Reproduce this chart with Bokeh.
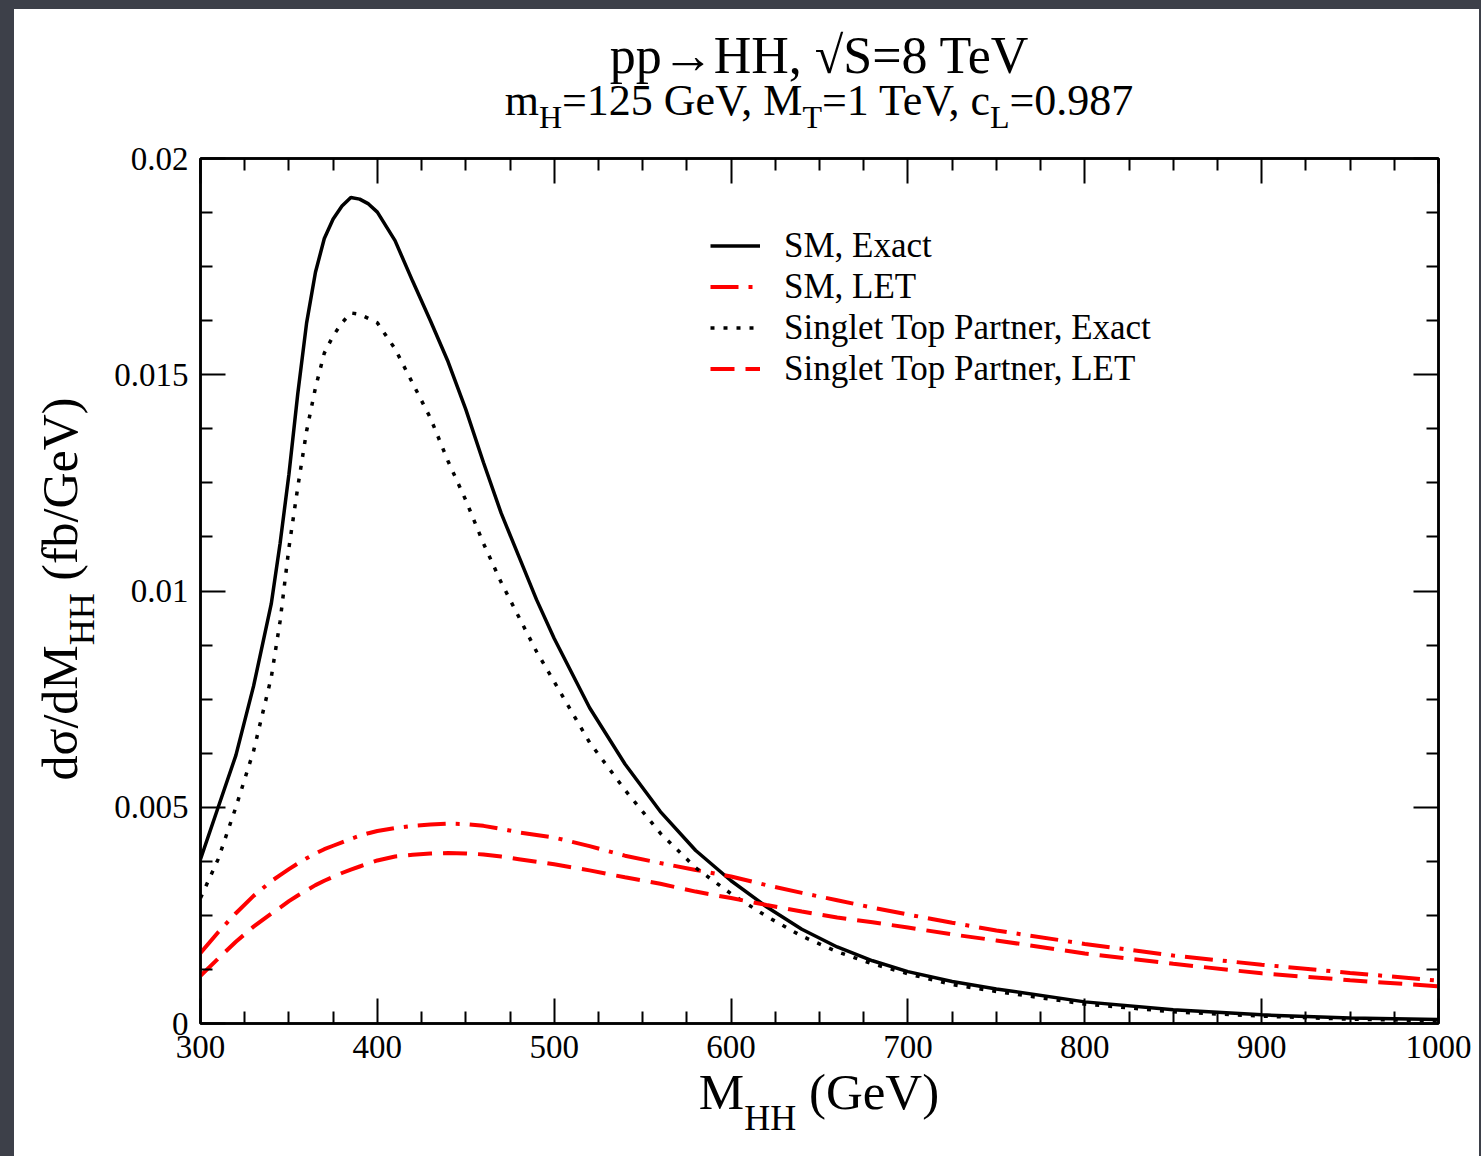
from bokeh.plotting import figure
from bokeh.models import LinearAxis, FixedTicker, Range1d, Div
from bokeh.layouts import column, row
from bokeh.embed import file_html
from bokeh.resources import INLINE

# ---------------- data ----------------
m_hh = [300, 310, 320, 330, 340, 345, 350, 355, 360, 365, 370, 375, 380, 385, 390, 395,
        400, 410, 420, 430, 440, 450, 460, 470, 480, 490, 500, 520, 540, 560, 580, 600,
        620, 640, 660, 680, 700, 725, 750, 800, 850, 900, 950, 1000]

sm_exact = [0.0038, 0.0050, 0.0062, 0.0078, 0.0097, 0.0111, 0.0127, 0.01456, 0.0162, 0.01737,
            0.01815, 0.0186, 0.0189, 0.0191, 0.01906, 0.01895, 0.01876, 0.0181, 0.01716, 0.01625,
            0.0153, 0.0142, 0.01297, 0.0118, 0.0108, 0.0098, 0.0089, 0.0073, 0.0060, 0.0049,
            0.0040, 0.0033, 0.0027, 0.00218, 0.00177, 0.00145, 0.0012, 0.00097, 0.0008, 0.0005,
            0.00032, 0.0002, 0.00013, 0.00009]

sm_let = [0.00163, 0.00211, 0.00255, 0.00295, 0.00329, 0.00343, 0.00357, 0.0037, 0.00382,
          0.00393, 0.00403, 0.00411, 0.00419, 0.00427, 0.00434, 0.0044, 0.00445, 0.00452,
          0.00457, 0.0046, 0.00462, 0.00461, 0.00457, 0.0045, 0.00442, 0.00436, 0.0043,
          0.0041, 0.00388, 0.00371, 0.00355, 0.0034, 0.0032, 0.00302, 0.00285, 0.00268,
          0.00252, 0.00233, 0.00215, 0.00184, 0.00157, 0.00136, 0.00117, 0.00099]

st_exact = [0.0029, 0.0038, 0.0050, 0.0063, 0.0080, 0.0093, 0.0110, 0.0124, 0.0137, 0.0147,
            0.0155, 0.0159, 0.0162, 0.01643, 0.0164, 0.0163, 0.0162, 0.0156, 0.0148, 0.0140,
            0.0130, 0.0121, 0.0111, 0.0102, 0.0094, 0.0086, 0.0079, 0.0065, 0.0054, 0.0044,
            0.0036, 0.0030, 0.00248, 0.00202, 0.00166, 0.00138, 0.00115, 0.0009, 0.00074, 0.00045,
            0.00027, 0.00017, 0.0001, 0.00006]

st_let = [0.0011, 0.0015, 0.00189, 0.00224, 0.00254, 0.00268, 0.00283, 0.00296, 0.00308, 0.0032,
          0.0033, 0.00339, 0.00348, 0.00356, 0.00363, 0.0037, 0.00377, 0.00386, 0.0039,
          0.00393, 0.00394, 0.00393, 0.00391, 0.00386, 0.0038, 0.00374, 0.00368, 0.00354,
          0.00338, 0.00323, 0.00305, 0.0029, 0.00274, 0.00259, 0.00245, 0.00234, 0.00222,
          0.00206, 0.00192, 0.00162, 0.00138, 0.00116, 0.001, 0.00086]

series_labels = ["SM, Exact", "SM, LET", "Singlet Top Partner, Exact", "Singlet Top Partner, LET"]

x_ticks = [300, 400, 500, 600, 700, 800, 900, 1000]
y_ticks = [0, 0.005, 0.01, 0.015, 0.02]
y_tick_labels = ["0", "0.005", "0.01", "0.015", "0.02"]

FONT = "Liberation Serif"
DARK = "#3d4049"

# ---------------- page geometry ----------------
PAD_T, PAD_L, PAD_R = 9, 14, 2
MAIN_W = 1481 - PAD_L - PAD_R           # 1465
TITLE_H = 131
YLAB_W = 96
FW, FH = 1238, 865
BL, BT, BB = 90, 18, 54
BR = MAIN_W - YLAB_W - BL - FW          # 41
P_H = BT + FH + BB
XLAB_H = 1156 - PAD_T - TITLE_H - P_H
MAIN_H = TITLE_H + P_H + XLAB_H

p = figure(frame_width=FW, frame_height=FH,
           min_border_left=BL, min_border_right=BR, min_border_top=BT, min_border_bottom=BB,
           x_range=Range1d(300, 1000), y_range=Range1d(0, 0.02),
           output_backend="svg", toolbar_location=None, margin=(0, 0, 0, 0))
p.background_fill_color = "white"
p.border_fill_color = "white"
p.grid.visible = False
p.outline_line_color = "black"
p.outline_line_width = 2.5

x_minor = [t + d for t in x_ticks[:-1] for d in (25, 50, 75)]
y_minor = [t + d for t in y_ticks[:-1] for d in (0.00125, 0.0025, 0.00375)]


def style_axis(ax, ticks, minor, show_labels):
    ax.ticker = FixedTicker(ticks=ticks, minor_ticks=minor)
    ax.major_tick_in = 25
    ax.major_tick_out = 0
    ax.minor_tick_in = 12
    ax.minor_tick_out = 0
    ax.major_tick_line_width = 2
    ax.minor_tick_line_width = 2
    ax.major_tick_line_color = "black"
    ax.minor_tick_line_color = "black"
    ax.axis_line_width = 2.5
    ax.axis_line_color = "black"
    ax.major_label_text_font = FONT
    ax.axis_label = None
    if show_labels:
        ax.major_label_text_font_size = "33px"
        ax.major_label_text_color = "black"
    else:
        ax.major_label_text_font_size = "0px"
        ax.major_label_text_color = None
        ax.major_label_standoff = 0


xb = p.xaxis[0]
yl = p.yaxis[0]
style_axis(xb, x_ticks, x_minor, True)
style_axis(yl, y_ticks, y_minor, True)
xb.major_label_standoff = 12
yl.major_label_standoff = 12
yl.major_label_overrides = {t: s for t, s in zip(y_ticks, y_tick_labels)}

xa = LinearAxis()
style_axis(xa, x_ticks, x_minor, False)
p.add_layout(xa, "above")
yr = LinearAxis()
style_axis(yr, y_ticks, y_minor, False)
p.add_layout(yr, "right")

# ---------------- curves ----------------
p.line(m_hh, sm_exact, line_color="black", line_width=3.5, legend_label=series_labels[0])
p.line(m_hh, sm_let, line_color="#ff0000", line_width=4, line_dash="28 10 4 10",
       legend_label=series_labels[1])
p.line(m_hh, st_exact, line_color="black", line_width=3.5, line_dash="4 9",
       legend_label=series_labels[2])
p.line(m_hh, st_let, line_color="#ff0000", line_width=4, line_dash="24 11",
       legend_label=series_labels[3])

leg = p.legend[0]
leg.location = (510, 634)
leg.border_line_color = None
leg.background_fill_alpha = 0
leg.label_text_font = FONT
leg.label_text_font_size = "35px"
leg.label_text_color = "black"
leg.glyph_width = 50
leg.glyph_height = 41
leg.label_height = 41
leg.spacing = 0
leg.padding = 0
leg.margin = 0
leg.label_standoff = 24

# ---------------- rich texts (HTML with subscripts) ----------------
ASC, DESC = 0.891, 0.216   # Liberation Serif vertical metrics (em)


def sub(t, size, shift):
    return (f'<span style="font-size:{size}px;position:relative;top:{shift}px;'
            f'line-height:0;">{t}</span>')


def base_off(size, lh):
    return (lh - (ASC + DESC) * size) / 2 + ASC * size


def line_div(html, cx, baseline, size, lh=None, width=1400):
    lh = size if lh is None else lh
    top = baseline - base_off(size, lh)
    return (f'<div style="position:absolute;left:{cx - width / 2:.1f}px;top:{top:.1f}px;'
            f'width:{width}px;height:{lh}px;font-size:{size}px;line-height:{lh}px;'
            f'text-align:center;white-space:nowrap;">{html}</div>')


def box(inner, w, h, bg="white"):
    html = (f'<div style="position:relative;width:{w}px;height:{h}px;overflow:visible;'
            f'font-family:\'{FONT}\';color:black;">{inner}</div>')
    return Div(text=html, width=w, height=h, margin=(0, 0, 0, 0),
               styles={"background-color": bg, "overflow": "visible"})


FC = 819 - PAD_L   # frame centre, local x

title_1 = "pp\u2192HH, \u221aS=8 TeV"
title_2 = ("m" + sub("H", 32, 13) + "=125 GeV, M" + sub("T", 32, 13) + "=1 TeV, c" +
           sub("L", 32, 13) + "=0.987")
title_div = box(line_div(title_1, FC, 73 - PAD_T, 52, lh=40) +
                line_div(title_2, FC, 116 - PAD_T, 44, lh=38), MAIN_W, TITLE_H)

x_label = "M" + sub("HH", 36, 21) + " (GeV)"
xlab_top = PAD_T + TITLE_H + P_H
xlab_div = box(line_div(x_label, FC, 1110 - xlab_top, 51), MAIN_W, XLAB_H)

y_label = "d\u03c3/dM" + sub("HH", 36, 17) + " (fb/GeV)"
ysz = 50
yc = 589 - PAD_T - TITLE_H
xc = (77 - PAD_L) - (base_off(ysz, ysz) - ysz / 2)
ylab_inner = (f'<div style="position:absolute;left:{xc - 350:.1f}px;top:{yc - ysz / 2:.1f}px;'
              f'width:700px;height:{ysz}px;font-size:{ysz}px;line-height:{ysz}px;'
              f'text-align:center;white-space:nowrap;transform:rotate(-90deg);">{y_label}</div>')
ylab_div = box(ylab_inner, YLAB_W, P_H)

main = column(title_div, row(ylab_div, p, spacing=0), xlab_div, spacing=0)
strip_top = Div(text="", width=1481, height=PAD_T, margin=(0, 0, 0, 0),
                styles={"background-color": DARK})
strip_left = Div(text="", width=PAD_L, height=MAIN_H, margin=(0, 0, 0, 0),
                 styles={"background-color": DARK})
strip_right = Div(text="", width=PAD_R, height=MAIN_H, margin=(0, 0, 0, 0),
                  styles={"background-color": DARK})
page = column(strip_top, row(strip_left, main, strip_right, spacing=0), spacing=0)

open("out.html", "w").write(file_html(page, INLINE))
